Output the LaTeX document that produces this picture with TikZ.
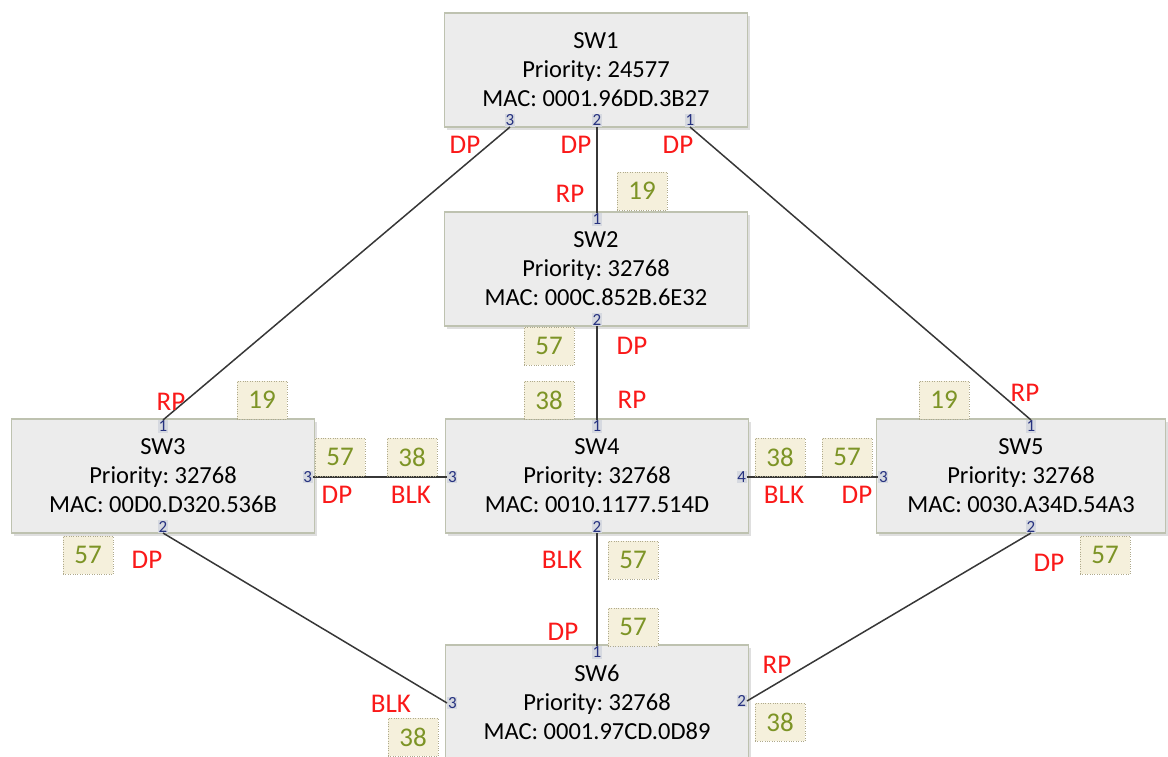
\documentclass[tikz,border=0pt]{standalone}
\usepackage{fontspec}
\setmainfont{Carlito}
\usetikzlibrary{shadows}
\frenchspacing

\definecolor{swfill}{RGB}{236,236,236}
\definecolor{swedge}{RGB}{190,194,176}
\definecolor{portbg}{RGB}{214,217,224}
\definecolor{portblue}{RGB}{38,50,128}
\definecolor{stpred}{RGB}{250,25,25}
\definecolor{costfill}{RGB}{245,240,220}
\definecolor{costedge}{RGB}{175,170,140}
\definecolor{costgreen}{RGB}{125,148,38}
\definecolor{linkgray}{RGB}{55,55,55}

\begin{document}
\begin{tikzpicture}[x=1pt,y=-1pt,
    sw/.style={draw=swedge, line width=1.5pt, fill=swfill, minimum width=303pt, minimum height=114pt,
        align=center, font=\fontsize{24.5}{29}\selectfont,
        drop shadow={opacity=0.25, shadow xshift=2pt, shadow yshift=-3pt}},
    port/.style={fill=portbg, text=portblue, font=\fontsize{17}{17}\selectfont, inner sep=0.8pt},
    lbl/.style={text=stpred, font=\fontsize{27}{27}\selectfont, inner sep=0pt},
    cost/.style={draw=costedge, dotted, fill=costfill, text=costgreen, minimum width=50pt,
        minimum height=38pt, inner sep=0pt, font=\fontsize{27}{27}\selectfont},
    link/.style={draw=linkgray, line width=1.5pt}]
    \useasboundingbox (0,0) rectangle (1168,757);

    % switches
    \node[sw] (sw1) at (596,70) {SW1\\Priority: 24577\\MAC: 0001.96DD.3B27};
    \node[sw] (sw2) at (596,269) {SW2\\Priority: 32768\\MAC: 000C.852B.6E32};
    \node[sw] (sw3) at (163,476) {SW3\\Priority: 32768\\MAC: 00D0.D320.536B};
    \node[sw] (sw4) at (597,476) {SW4\\Priority: 32768\\MAC: 0010.1177.514D};
    \node[sw, minimum width=289pt] (sw5) at (1021,476) {SW5\\Priority: 32768\\MAC: 0030.A34D.54A3};
    \node[sw] (sw6) at (597,702) {SW6\\Priority: 32768\\MAC: 0001.97CD.0D89};

    % ports
    \node[port, anchor=south] (s1p3) at (510,127) {3};
    \node[port, anchor=south] (s1p2) at (597,127) {2};
    \node[port, anchor=south] (s1p1) at (690,127) {1};
    \node[port, anchor=north] (s2p1) at (597,213) {1};
    \node[port, anchor=south] (s2p2) at (597,326) {2};
    \node[port, anchor=north] (s3p1) at (163,420) {1};
    \node[port, anchor=east] (s3p3) at (313,477) {3};
    \node[port, anchor=south] (s3p2) at (163,533) {2};
    \node[port, anchor=north] (s4p1) at (597,420) {1};
    \node[port, anchor=west] (s4p3) at (447,477) {3};
    \node[port, anchor=east] (s4p4) at (747,477) {4};
    \node[port, anchor=south] (s4p2) at (597,533) {2};
    \node[port, anchor=north] (s5p1) at (1031,420) {1};
    \node[port, anchor=west] (s5p3) at (878,477) {3};
    \node[port, anchor=south] (s5p2) at (1031,533) {2};
    \node[port, anchor=north] (s6p1) at (597,646) {1};
    \node[port, anchor=west] (s6p3) at (447,703) {3};
    \node[port, anchor=east] (s6p2) at (747,701) {2};

    % links
    \draw[link] (s1p3.south) -- (s3p1.north);
    \draw[link] (s1p2.south) -- (s2p1.north);
    \draw[link] (s1p1.south) -- (s5p1.north);
    \draw[link] (s2p2.south) -- (s4p1.north);
    \draw[link] (s3p3.east) -- (s4p3.west);
    \draw[link] (s4p4.east) -- (s5p3.west);
    \draw[link] (s3p2.south) -- (s6p3.west);
    \draw[link] (s4p2.south) -- (s6p1.north);
    \draw[link] (s5p2.south) -- (s6p2.east);

    % port roles
    \node[lbl] (r13) at (465,145) {DP};
    \node[lbl] (r12) at (576,145) {DP};
    \node[lbl] (r11) at (678,145) {DP};
    \node[lbl] (r21) at (570,194) {RP};
    \node[lbl] (r22) at (632,346) {DP};
    \node[lbl] (r41) at (632,400) {RP};
    \node[lbl] (r31) at (171,402) {RP};
    \node[lbl] (r51) at (1025,393) {RP};
    \node[lbl] (r33) at (337,495) {DP};
    \node[lbl] (r43) at (411,495) {BLK};
    \node[lbl] (r44) at (784,495) {BLK};
    \node[lbl] (r53) at (857,495) {DP};
    \node[lbl] (r32) at (147,560) {DP};
    \node[lbl] (r42) at (562,560) {BLK};
    \node[lbl] (r61) at (563,632) {DP};
    \node[lbl] (r52) at (1049,563) {DP};
    \node[lbl] (r62) at (777,665) {RP};
    \node[lbl] (r63) at (391,704) {BLK};

    % path costs
    \node[cost] (c21) at (642,191) {19};
    \node[cost] (c22) at (549,346) {57};
    \node[cost] (c41) at (549,400) {38};
    \node[cost] (c31) at (262,400) {19};
    \node[cost] (c33) at (340,457) {57};
    \node[cost] (c43) at (412,457) {38};
    \node[cost] (c44) at (780,457) {38};
    \node[cost] (c53) at (847,457) {57};
    \node[cost] (c51) at (944,400) {19};
    \node[cost] (c32) at (88,555) {57};
    \node[cost] (c42) at (633,560) {57};
    \node[cost] (c61) at (633,627) {57};
    \node[cost] (c52) at (1105,555) {57};
    \node[cost] (c63) at (413,737) {38};
    \node[cost] (c62) at (780,722) {38};
\end{tikzpicture}
\end{document}
